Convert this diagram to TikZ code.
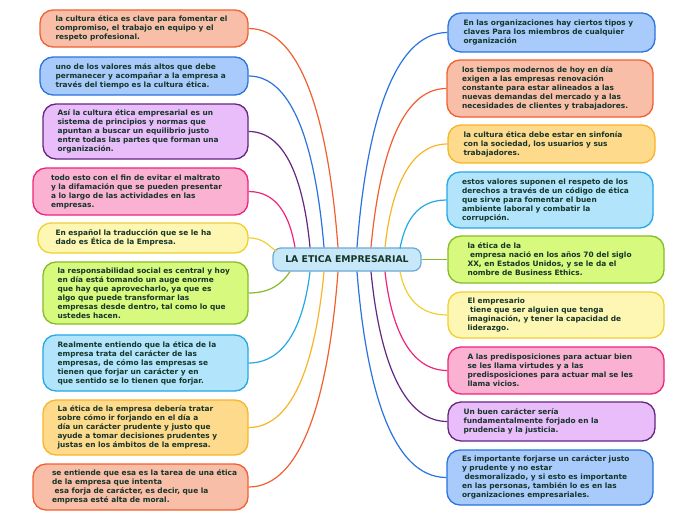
\documentclass[tikz,border=0pt]{standalone}
\usepackage{fontspec}
\setmainfont{DejaVu Sans}
\usetikzlibrary{calc}
\definecolor{txtc}{HTML}{16352A}
\definecolor{salF}{HTML}{F8BEA8}\definecolor{salB}{HTML}{F06030}
\definecolor{bluF}{HTML}{A8CBFB}\definecolor{bluB}{HTML}{2B73E0}
\definecolor{lilF}{HTML}{E9BDF9}\definecolor{lilB}{HTML}{652580}
\definecolor{pinF}{HTML}{FBB1D2}\definecolor{pinB}{HTML}{F0247A}
\definecolor{pyeF}{HTML}{FEF7B3}\definecolor{pyeB}{HTML}{F0D030}
\definecolor{limF}{HTML}{D6F97E}\definecolor{limB}{HTML}{86BC25}
\definecolor{cyaF}{HTML}{B2E5FB}\definecolor{cyaB}{HTML}{24A9E6}
\definecolor{oraF}{HTML}{FDDA8C}\definecolor{oraB}{HTML}{F8B528}
\definecolor{cenF}{HTML}{C6E8F9}\definecolor{cenB}{HTML}{6AA8D8}
\tikzset{
  bxs/.style={draw=#1B, fill=#1F, line width=1.3pt, rounded corners=13pt, inner sep=0pt},
  txt/.style={anchor=west, align=left, inner sep=0pt, text=txtc,
    font=\bfseries\fontsize{7.4}{9}\selectfont},
  conn/.style={draw=#1B, line width=1.2pt},
}
\newcommand\ind{\hspace*{.35em}}
\begin{document}
\begin{tikzpicture}[x=1pt,y=-1pt]
\useasboundingbox (0,0) rectangle (696,520);
\fill[white] (0,0) rectangle (696,520);
% central
\node[draw=cenB, fill=cenF, line width=1.2pt, rounded corners=8pt, minimum width=148pt, minimum height=23pt, inner sep=0pt,
  text=txtc, font=\bfseries\fontsize{9.3}{10}\selectfont] (C) at (347,259.5) {LA ETICA EMPRESARIAL};
% left boxes
\node[bxs=sal, minimum width=208pt, minimum height=37pt] (L1) at (144,28.5) {};
\node[txt] (L1t) at ($(L1.west)+(16,0)$) {la cultura ética es clave para fomentar el\\compromiso, el trabajo en equipo y el\\respeto profesional.};
\node[bxs=blu, minimum width=208pt, minimum height=38pt] (L2) at (144,76) {};
\node[txt] (L2t) at ($(L2.west)+(16,0)$) {uno de los valores más altos que debe\\permanecer y acompañar a la empresa a\\través del tiempo es la cultura ética.};
\node[bxs=lil, minimum width=205pt, minimum height=55pt] (L3) at (145.5,131.5) {};
\node[txt] (L3t) at ($(L3.west)+(15,0)$) {Así la cultura ética empresarial es un\\sistema de principios y normas que\\apuntan a buscar un equilibrio justo\\entre todas las partes que forman una\\organización.};
\node[bxs=pin, minimum width=215pt, minimum height=47pt] (L4) at (140.5,191.5) {};
\node[txt] (L4t) at ($(L4.west)+(18.5,0)$) {todo esto con el fin de evitar el maltrato\\y la difamación que se pueden presentar\\a lo largo de las actividades en las\\empresas.};
\node[bxs=pye, minimum width=210pt, minimum height=30pt] (L5) at (143,238) {};
\node[txt] (L5t) at ($(L5.west)+(18,0)$) {En español la traducción que se le ha\\dado es Ética de la Empresa.};
\node[bxs=lim, minimum width=205pt, minimum height=62pt] (L6) at (145.5,293) {};
\node[txt] (L6t) at ($(L6.west)+(15,0)$) {la responsabilidad social es central y hoy\\en día está tomando un auge enorme\\que hay que aprovecharlo, ya que es\\algo que puede transformar las\\empresas desde dentro, tal como lo que\\ustedes hacen.};
\node[bxs=cya, minimum width=205pt, minimum height=56pt] (L7) at (145.5,363) {};
\node[txt] (L7t) at ($(L7.west)+(15,0)$) {Realmente entiendo que la ética de la\\empresa trata del carácter de las\\empresas, de cómo las empresas se\\tienen que forjar un carácter y en\\que sentido se lo tienen que forjar.};
\node[bxs=ora, minimum width=205pt, minimum height=55pt] (L8) at (145.5,427.5) {};
\node[txt] (L8t) at ($(L8.west)+(15,0)$) {La ética de la empresa debería tratar\\sobre cómo ir forjando en el día a\\día un carácter prudente y justo que\\ayude a tomar decisiones prudentes y\\justas en los ámbitos de la empresa.};
\node[bxs=sal, minimum width=215pt, minimum height=46pt] (L9) at (140.5,487) {};
\node[txt] (L9t) at ($(L9.west)+(19.5,0)$) {se entiende que esa es la tarea de una ética\\de la empresa que intenta\\\ind esa forja de carácter, es decir, que la\\empresa esté alta de moral.};
% right boxes
\node[bxs=blu, minimum width=207pt, minimum height=39pt] (R1) at (551.5,32.5) {};
\node[txt] (R1t) at ($(R1.west)+(16,0)$) {En las organizaciones hay ciertos tipos y\\claves Para los miembros de cualquier\\organización};
\node[bxs=sal, minimum width=206pt, minimum height=57pt] (R2) at (550,88.5) {};
\node[txt] (R2t) at ($(R2.west)+(15.5,0)$) {los tiempos modernos de hoy en día\\exigen a las empresas renovación\\constante para estar alineados a las\\nuevas demandas del mercado y a las\\necesidades de clientes y trabajadores.};
\node[bxs=ora, minimum width=207pt, minimum height=38pt] (R3) at (551.5,144) {};
\node[txt] (R3t) at ($(R3.west)+(16,0)$) {la cultura ética debe estar en sinfonía\\con la sociedad, los usuarios y sus\\trabajadores.};
\node[bxs=cya, minimum width=206pt, minimum height=56pt] (R4) at (550,200) {};
\node[txt] (R4t) at ($(R4.west)+(15.5,0)$) {estos valores suponen el respeto de los\\derechos a través de un código de ética\\que sirve para fomentar el buen\\ambiente laboral y combatir la\\corrupción.};
\node[bxs=lim, minimum width=216pt, minimum height=47pt] (R5) at (556,259.5) {};
\node[txt] (R5t) at ($(R5.west)+(20,0)$) {la ética de la\\\ind empresa nació en los años 70 del siglo\\XX, en Estados Unidos, y se le da el\\nombre de Business Ethics.};
\node[bxs=pye, minimum width=216pt, minimum height=46pt] (R6) at (556,315) {};
\node[txt] (R6t) at ($(R6.west)+(20,0)$) {El empresario\\\ind tiene que ser alguien que tenga\\imaginación, y tener la capacidad de\\liderazgo.};
\node[bxs=pin, minimum width=216pt, minimum height=47pt] (R7) at (556,370.5) {};
\node[txt] (R7t) at ($(R7.west)+(20,0)$) {A las predisposiciones para actuar bien\\se les llama virtudes y a las\\predisposiciones para actuar mal se les\\llama vicios.};
\node[bxs=lil, minimum width=207pt, minimum height=39pt] (R8) at (551.5,421.5) {};
\node[txt] (R8t) at ($(R8.west)+(16,0)$) {Un buen carácter sería\\fundamentalmente forjado en la\\prudencia y la justicia.};
\node[bxs=blu, minimum width=206pt, minimum height=55pt] (R9) at (550,477.5) {};
\node[txt] (R9t) at ($(R9.west)+(15.5,0)$) {Es importante forjarse un carácter justo\\y prudente y no estar\\\ind desmoralizado, y si esto es importante\\en las personas, también lo es en las\\organizaciones empresariales.};
% connectors left
\draw[conn=sal] ($(C.north)+(-9,0)$) .. controls +(-9,-120) and +(55,0) .. (L1.east);
\draw[conn=blu] ($(C.north)+(-23,0)$) .. controls +(-8,-95) and +(46,0) .. (L2.east);
\draw[conn=lil] ($(C.north)+(-37,0)$) .. controls +(-6,-64) and +(38,0) .. (L3.east);
\draw[conn=pin] ($(C.north)+(-52,0)$) .. controls +(-5,-30) and +(29,0) .. (L4.east);
\draw[conn=pye] ($(C.west)+(4,-8)$) .. controls +(-8,-6) and +(15,0) .. (L5.east);
\draw[conn=lim] ($(C.south)+(-57,0)$) .. controls +(-8,12) and +(22,0) .. (L6.east);
\draw[conn=cya] ($(C.south)+(-37,0)$) .. controls +(-6,50) and +(38,0) .. (L7.east);
\draw[conn=ora] ($(C.south)+(-23,0)$) .. controls +(-8,86) and +(46,0) .. (L8.east);
\draw[conn=sal] ($(C.south)+(-9,0)$) .. controls +(-9,119) and +(55,0) .. (L9.east);
% connectors right
\draw[conn=blu] ($(C.north)+(10,0)$) .. controls +(9,-118) and +(-55,0) .. (R1.west);
\draw[conn=sal] ($(C.north)+(24,0)$) .. controls +(8,-87) and +(-46,0) .. (R2.west);
\draw[conn=ora] ($(C.north)+(38,0)$) .. controls +(6,-57) and +(-38,0) .. (R3.west);
\draw[conn=cya] ($(C.north)+(53,1)$) .. controls +(5,-27) and +(-29,0) .. (R4.west);
\draw[conn=lim] (C.east) -- (R5.west);
\draw[conn=pye] ($(C.south)+(53,0)$) .. controls +(5,25) and +(-29,0) .. (R6.west);
\draw[conn=pin] ($(C.south)+(38,0)$) .. controls +(6,55) and +(-38,0) .. (R7.west);
\draw[conn=lil] ($(C.south)+(24,0)$) .. controls +(8,83) and +(-46,0) .. (R8.west);
\draw[conn=blu] ($(C.south)+(10,0)$) .. controls +(9,114) and +(-55,0) .. (R9.west);
\end{tikzpicture}
\end{document}
